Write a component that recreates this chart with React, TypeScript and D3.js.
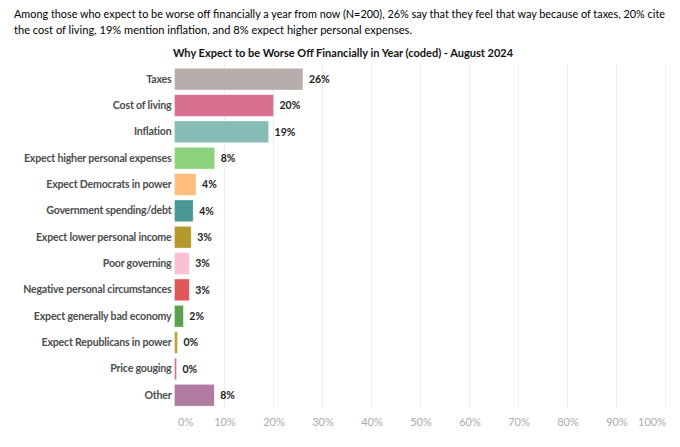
import { useEffect, useRef } from "react"
import * as d3 from "d3"

const categories = [
  "Taxes",
  "Cost of living",
  "Inflation",
  "Expect higher personal expenses",
  "Expect Democrats in power",
  "Government spending/debt",
  "Expect lower personal income",
  "Poor governing",
  "Negative personal circumstances",
  "Expect generally bad economy",
  "Expect Republicans in power",
  "Price gouging",
  "Other",
]

const values = [26, 20, 19, 8, 4.2, 3.6, 3.2, 2.8, 2.8, 1.6, 0.4, 0.2, 7.9]

const barColors = [
  "#b6aeab",
  "#d8718f",
  "#86bcb6",
  "#8cd17d",
  "#ffbe7d",
  "#499894",
  "#b6992d",
  "#fabfd2",
  "#e15759",
  "#59a14f",
  "#c1a137",
  "#d37295",
  "#b07aa1",
]

const xTicks = [0, 10, 20, 30, 40, 50, 60, 70, 80, 90, 100]

const headerLines = [
  "Among those who expect to be worse off financially a year from now (N=200), 26% say that they feel that way because of taxes, 20% cite",
  "the cost of living, 19% mention inflation, and 8% expect higher personal expenses.",
]
// largeur mesurée de chaque ligne dans la référence
const headerWidths = [651, 398]

const chartTitle = "Why Expect to be Worse Off Financially in Year (coded) - August 2024"

const W = 680
const H = 447

export default function App() {
  const svgRef = useRef<SVGSVGElement>(null)

  useEffect(() => {
    if (!svgRef.current) return
    const svg = d3.select(svgRef.current)
    svg.selectAll("*").remove()

    svg.append("rect").attr("width", W).attr("height", H).attr("fill", "#ffffff")

    // Texte d'introduction
    headerLines.forEach((line, i) => {
      svg
        .append("text")
        .attr("x", 14)
        .attr("y", 18 + i * 16)
        .attr("font-family", "Lato, 'Open Sans', sans-serif")
        .attr("font-size", 12)
        .attr("fill", "#000")
        .attr("textLength", headerWidths[i])
        .attr("lengthAdjust", "spacingAndGlyphs")
        .text(line)
    })

    svg
      .append("text")
      .attr("x", 343)
      .attr("y", 57)
      .attr("text-anchor", "middle")
      .attr("font-family", "Lato, 'Open Sans', sans-serif")
      .attr("font-weight", 700)
      .attr("font-size", 11)
      .attr("fill", "#111")
      .text(chartTitle)

    const plot = { left: 175.5, right: 665.5, top: 66, bottom: 408.4 }

    const x = d3.scaleLinear().domain([0, 100]).range([plot.left, plot.right])
    const y = d3
      .scaleBand<string>()
      .domain(categories)
      .range([plot.top, plot.bottom])
      .paddingInner(0.176)
      .paddingOuter(0.088)

    // Grille verticale
    svg
      .append("g")
      .selectAll("line")
      .data(xTicks.slice(1))
      .join("line")
      .attr("x1", (d) => x(d))
      .attr("x2", (d) => x(d))
      .attr("y1", plot.top - 2)
      .attr("y2", plot.bottom)
      .attr("stroke", "#efefef")
      .attr("stroke-width", 1)

    // Axe X
    const xAxis = svg
      .append("g")
      .attr("transform", `translate(0,${plot.bottom})`)
      .call(
        d3
          .axisBottom(x)
          .tickValues(xTicks)
          .tickSize(0)
          .tickPadding(10)
          .tickFormat((d) => `${d}%`)
      )
    xAxis.select(".domain").remove()
    xAxis
      .selectAll<SVGTextElement, number>("text")
      .attr("font-family", "Lato, 'Open Sans', sans-serif")
      .attr("font-size", 11)
      .attr("fill", "#ababab")
      .attr("text-anchor", (d) => (d === 0 ? "start" : d === 100 ? "end" : "middle"))
      .attr("dx", (d) => (d === 0 ? 2 : 0))

    // Barres
    svg
      .append("g")
      .selectAll("rect")
      .data(categories)
      .join("rect")
      .attr("x", x(0) - 1)
      .attr("y", (d) => y(d)!)
      .attr("width", (_d, i) => Math.max(x(values[i]) - x(0) + 1, 2))
      .attr("height", y.bandwidth())
      .attr("fill", (_d, i) => barColors[i])
      .attr("stroke", "#ffffff")
      .attr("stroke-opacity", 0.5)
      .attr("stroke-width", 0.6)

    // Étiquettes de valeurs
    svg
      .append("g")
      .selectAll("text")
      .data(categories)
      .join("text")
      .attr("x", (_d, i) => Math.max(x(values[i]), x(0) + 1) + 6)
      .attr("y", (d) => y(d)! + y.bandwidth() / 2)
      .attr("dy", "0.35em")
      .attr("font-family", "Lato, 'Open Sans', sans-serif")
      .attr("font-weight", 700)
      .attr("font-size", 10.5)
      .attr("fill", "#222")
      .text((_d, i) => `${Math.round(values[i])}%`)

    // Axe Y (catégories)
    const yAxis = svg
      .append("g")
      .attr("transform", `translate(${plot.left - 4},0)`)
      .call(d3.axisLeft(y).tickSize(0).tickPadding(0))
    yAxis.select(".domain").remove()
    yAxis
      .selectAll("text")
      .attr("font-family", "Lato, 'Open Sans', sans-serif")
      .attr("font-weight", 700)
      .attr("font-size", 10.6)
      .attr("letter-spacing", "-0.2px")
      .attr("fill", "#4d4d4d")
  }, [])

  return (
    <svg
      ref={svgRef}
      width={W}
      height={H}
      style={{ position: "absolute", left: 0, top: 0, display: "block" }}
    />
  )
}
